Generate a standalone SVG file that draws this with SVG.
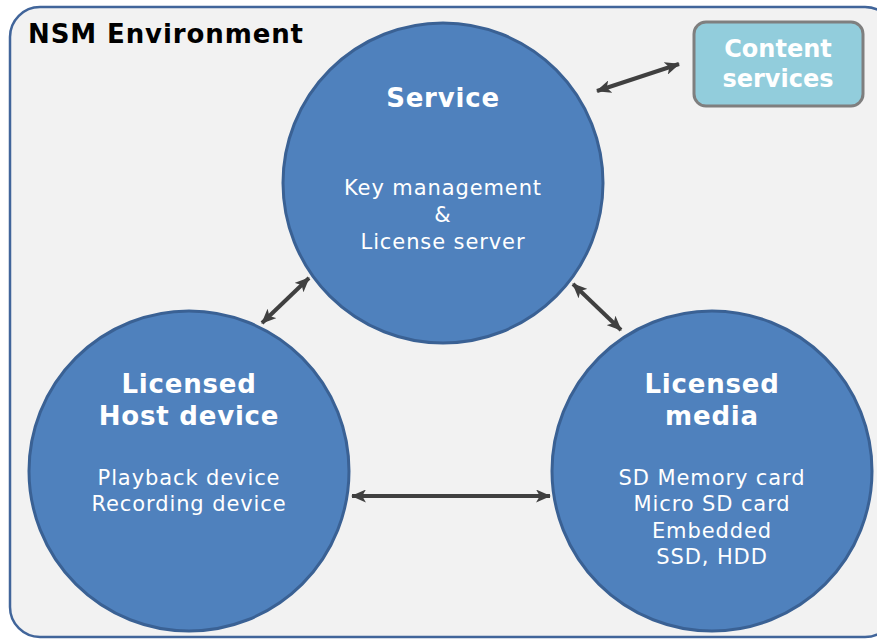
<svg xmlns="http://www.w3.org/2000/svg" width="877" height="640" viewBox="0 0 877 640">
<style>
.circ{fill:#4f81bd;stroke:#3a6194;stroke-width:3}
.t{font-family:"DejaVu Sans",Verdana,sans-serif;fill:#fff;text-anchor:middle}
.b{font-weight:bold;font-size:26px;letter-spacing:0.8px}
.r{font-size:21px;letter-spacing:0.9px}
.conn line{stroke:#404040;stroke-width:4;marker-start:url(#ah);marker-end:url(#ah)}
</style>
<defs>
<marker id="ah" markerUnits="userSpaceOnUse" viewBox="0 0 16 14" refX="15" refY="7" markerWidth="15" markerHeight="13" orient="auto-start-reverse">
<path d="M0,0 L16,7 L0,14 L4,7 Z" fill="#404040"/>
</marker>
</defs>
<rect width="877" height="640" fill="#ffffff"/>
<g id="environment">
<rect x="10" y="7" width="885" height="630" rx="30" fill="#f2f2f2" stroke="#41659a" stroke-width="2.5"/>
<text x="28" y="43" font-family="DejaVu Sans,Verdana,sans-serif" font-weight="bold" font-size="26" letter-spacing="0.9" fill="#000">NSM Environment</text>
</g>
<g id="content-services">
<rect x="694" y="22" width="169" height="84" rx="12" fill="#92cddc" stroke="#7f7f7f" stroke-width="3"/>
<text class="t" x="778" y="57" font-weight="bold" font-size="24">Content</text>
<text class="t" x="778" y="87" font-weight="bold" font-size="24">services</text>
</g>
<g id="service">
<circle class="circ" cx="443" cy="183" r="160"/>
<text class="t b" x="443" y="107">Service</text>
<text class="t r" x="443" y="195">Key management</text>
<text class="t r" x="443" y="222">&amp;</text>
<text class="t r" x="443" y="249">License server</text>
</g>
<g id="host">
<circle class="circ" cx="189" cy="471" r="160"/>
<text class="t b" x="189" y="393">Licensed</text>
<text class="t b" x="189" y="425">Host device</text>
<text class="t r" x="189" y="485">Playback device</text>
<text class="t r" x="189" y="511">Recording device</text>
</g>
<g id="media">
<circle class="circ" cx="712" cy="471" r="160"/>
<text class="t b" x="712" y="393">Licensed</text>
<text class="t b" x="712" y="425">media</text>
<text class="t r" x="712" y="485">SD Memory card</text>
<text class="t r" x="712" y="511">Micro SD card</text>
<text class="t r" x="712" y="538">Embedded</text>
<text class="t r" x="712" y="564">SSD, HDD</text>
</g>
<g id="connectors" class="conn">
<line x1="597" y1="91" x2="679" y2="64"/>
<line x1="309" y1="278" x2="262" y2="323"/>
<line x1="573" y1="284" x2="621" y2="330"/>
<line x1="352" y1="496" x2="550" y2="496"/>
</g>
</svg>
